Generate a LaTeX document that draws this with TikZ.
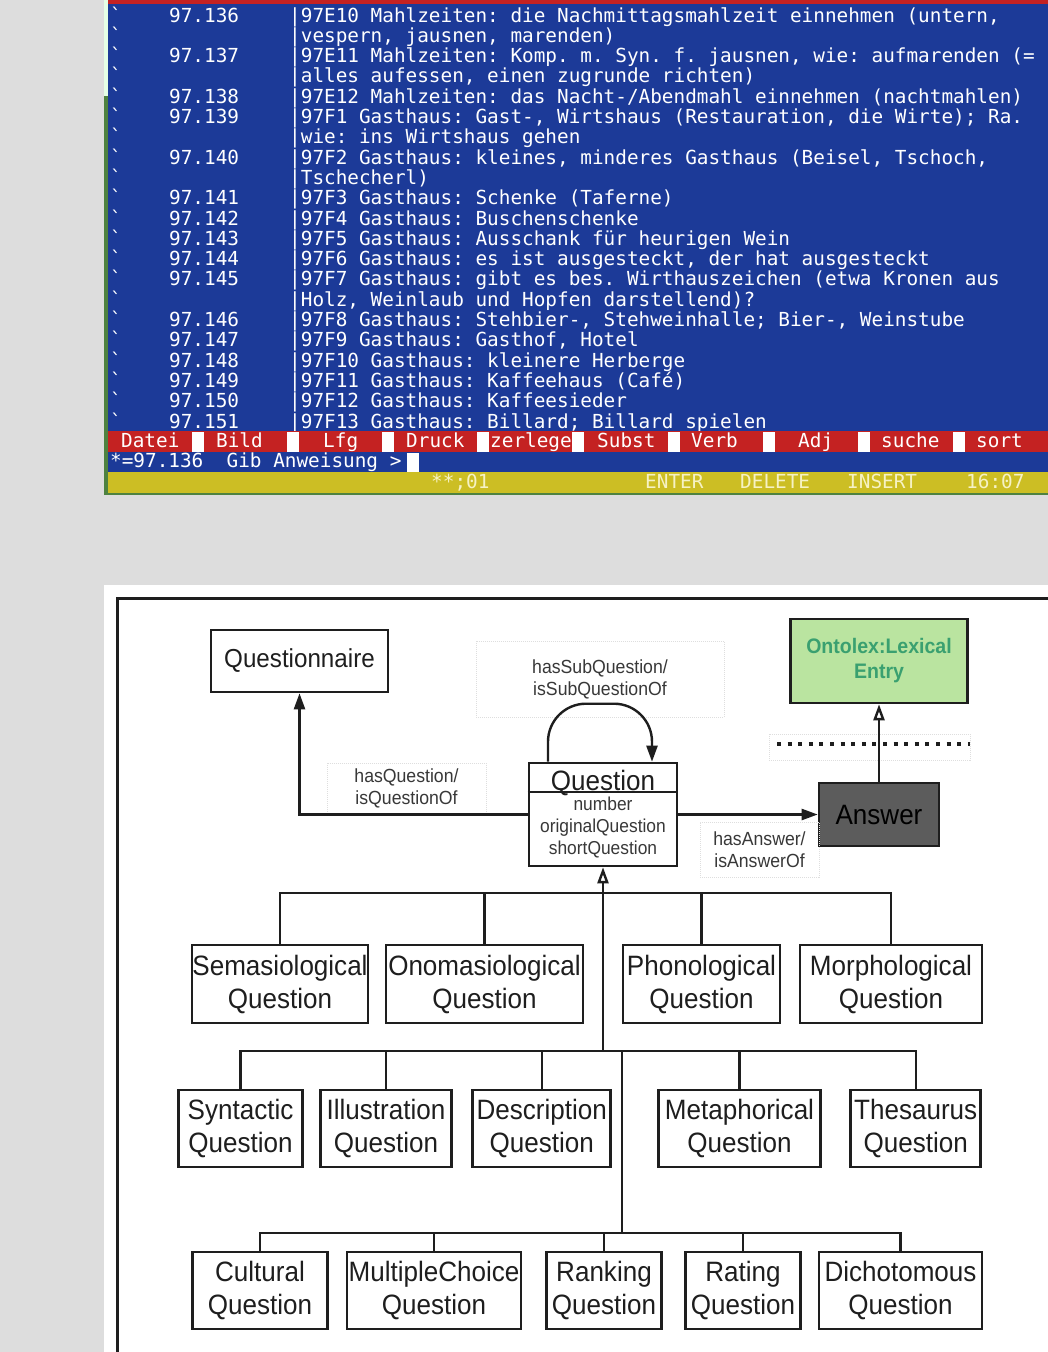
\documentclass[tikz,border=0pt]{standalone}
\usepackage{fontspec}
\usetikzlibrary{arrows.meta}
\newfontfamily\termfont{DejaVu Sans Mono}[Ligatures=TeXOff]
\newfontfamily\diafont{Liberation Sans}[FakeStretch=0.93]
\definecolor{bggray}{RGB}{221,221,221}
\definecolor{termblue}{RGB}{28,58,152}
\definecolor{termred}{RGB}{196,34,34}
\definecolor{termyellow}{RGB}{204,190,36}
\definecolor{statustext}{RGB}{246,242,196}
\definecolor{lexgreen}{RGB}{186,228,160}
\definecolor{lextext}{RGB}{58,160,112}
\definecolor{ansgray}{RGB}{92,92,92}
\definecolor{ink}{RGB}{30,30,30}
\definecolor{frame}{RGB}{78,130,64}

\newcommand{\termrow}[3]{%
  \node[term] (tick#1) at (110,{22+20.3*#1}) {`};
  \node[term] (num#1) at (169,{22+20.3*#1}) {#2};
  \node[term] (txt#1) at (289,{22+20.3*#1}) {#3};}

\begin{document}
\begin{tikzpicture}[x=1pt,y=-1pt,
  term/.style={font=\termfont\fontsize{19.35}{20}\selectfont\frenchspacing,text=white,anchor=base west,inner sep=0pt},
  qbox/.style={draw=ink,line width=2.6pt,text=ink,font=\diafont\fontsize{28}{33}\selectfont,align=center,inner sep=0pt},
  ghost/.style={draw=black!13,densely dotted,line width=1pt},
  lbl/.style={ghost,text=black!78,font=\diafont\fontsize{19}{22}\selectfont,align=center,inner sep=0pt},
  conn/.style={draw=ink,line width=2.4pt},
  arr/.style={conn,-{Triangle[length=16pt,width=11pt]}},
  openarr/.style={conn,-{Triangle[open,length=16pt,width=11pt,fill=white]}},
  sepline/.style={draw=ink,line width=4pt,dash pattern=on 4pt off 6.6pt}]
\useasboundingbox (0,0) rectangle (1048,1352);
\fill[bggray] (0,0) rectangle (1048,1352);

% terminal screen
\begin{scope}
\clip (104,0) rectangle (1048,495);
\fill[frame] (104,0) rectangle (1048,495);
\fill[white!90!green] (104,0) rectangle (108,96);
\fill[termblue] (108,0) rectangle (1048,493);
\fill[termred] (108,0) rectangle (1048,3.5);
\termrow{0}{97.136}{|97E10 Mahlzeiten: die Nachmittagsmahlzeit einnehmen (untern,}
\termrow{1}{}{|vespern, jausnen, marenden)}
\termrow{2}{97.137}{|97E11 Mahlzeiten: Komp. m. Syn. f. jausnen, wie: aufmarenden (=}
\termrow{3}{}{|alles aufessen, einen zugrunde richten)}
\termrow{4}{97.138}{|97E12 Mahlzeiten: das Nacht-/Abendmahl einnehmen (nachtmahlen)}
\termrow{5}{97.139}{|97F1 Gasthaus: Gast-, Wirtshaus (Restauration, die Wirte); Ra.}
\termrow{6}{}{|wie: ins Wirtshaus gehen}
\termrow{7}{97.140}{|97F2 Gasthaus: kleines, minderes Gasthaus (Beisel, Tschoch,}
\termrow{8}{}{|Tschecherl)}
\termrow{9}{97.141}{|97F3 Gasthaus: Schenke (Taferne)}
\termrow{10}{97.142}{|97F4 Gasthaus: Buschenschenke}
\termrow{11}{97.143}{|97F5 Gasthaus: Ausschank für heurigen Wein}
\termrow{12}{97.144}{|97F6 Gasthaus: es ist ausgesteckt, der hat ausgesteckt}
\termrow{13}{97.145}{|97F7 Gasthaus: gibt es bes. Wirthauszeichen (etwa Kronen aus}
\termrow{14}{}{|Holz, Weinlaub und Hopfen darstellend)?}
\termrow{15}{97.146}{|97F8 Gasthaus: Stehbier-, Stehweinhalle; Bier-, Weinstube}
\termrow{16}{97.147}{|97F9 Gasthaus: Gasthof, Hotel}
\termrow{17}{97.148}{|97F10 Gasthaus: kleinere Herberge}
\termrow{18}{97.149}{|97F11 Gasthaus: Kaffeehaus (Café)}
\termrow{19}{97.150}{|97F12 Gasthaus: Kaffeesieder}
\termrow{20}{97.151}{|97F13 Gasthaus: Billard; Billard spielen}
% menu bar
\fill[termred] (108,431) rectangle (1048,452);
\foreach \i in {0,...,8}
  \fill[white] ({192+95.1*\i},432) rectangle ++(12,19.5);
\foreach \mx/\mt [count=\i] in {121/Datei,216/Bild,323/Lfg,406/Druck,490/zerlege,597/Subst,691/Verb,798/Adj,881/suche,976/sort}
  \node[term] (menu\i) at (\mx,447) {\mt};
\node[term] (prompt) at (110,467) {*=97.136\ \ Gib Anweisung >};
\fill[white] (407,453) rectangle (419,472);
% status line
\fill[termyellow] (108,472) rectangle (1048,492.5);
\foreach \sx/\st [count=\i] in {431/**;01,645/ENTER,740/DELETE,847/INSERT,966/16:07}
  \node[term,text=statustext] (status\i) at (\sx,488) {\st};
\end{scope}

% question model
\fill[white] (104,585) rectangle (1048,1352);
\draw[ink,line width=3pt] (117.5,1352) -- (117.5,598.5) -- (1048,598.5);

\node[qbox,minimum width=177pt,minimum height=62pt,font=\diafont\fontsize{26}{30}\selectfont] (questionnaire) at (299.5,661) {Questionnaire};
\node[qbox,fill=lexgreen,minimum width=177pt,minimum height=84pt,text=lextext,font=\diafont\bfseries\fontsize{21}{25}\selectfont] (ontolex) at (879,661) {Ontolex:Lexical\\Entry};
\node[qbox,minimum width=148pt,minimum height=103pt] (question) at (603,814.5) {};
\node[qbox,fill=ansgray,minimum width=120pt,minimum height=63pt,text=black] (answer) at (879,814.5) {Answer};
\coordinate (qdiv) at (603,792);
\draw[conn,line width=2pt] (question.west |- qdiv) -- (question.east |- qdiv);
\node[text=ink,font=\diafont\fontsize{28}{33}\selectfont,anchor=base,inner sep=0pt] (qname) at (603,790) {Question};
\node[text=black!78,font=\diafont\fontsize{18.7}{22}\selectfont,align=center,inner sep=0pt] (qattr) at (603,827) {number\\originalQuestion\\shortQuestion};

\node[lbl,minimum width=248pt,minimum height=76pt] (lblsub) at (600,679) {hasSubQuestion/\\isSubQuestionOf};
\node[lbl,minimum width=159pt,minimum height=50pt] (lblq) at (406.5,788) {hasQuestion/\\isQuestionOf};
\node[lbl,minimum width=119pt,minimum height=55pt] (lbla) at (759.5,849.5) {hasAnswer/\\isAnswerOf};
\draw[ghost] (769,734) rectangle (970,760);
\coordinate (sepL) at (777,744);
\coordinate (sepR) at (970,744);
\draw[sepline] (sepL) -- (sepR);

\draw[arr] (question.west) -| (questionnaire.south);
\draw[arr] (question.east) -- (answer.west);
\draw[openarr] (answer.north) -- (ontolex.south);
\draw[arr,rounded corners=38pt] ([xshift=-55pt]question.north) -- ++(0,-58) -| ([xshift=49pt]question.north);

% subclasses
\node[qbox,minimum width=176pt,minimum height=78pt] (sem) at (280,984) {Semasiological\\Question};
\node[qbox,minimum width=197pt,minimum height=78pt] (ono) at (484.5,984) {Onomasiological\\Question};
\node[qbox,minimum width=157pt,minimum height=78pt] (pho) at (701.5,984) {Phonological\\Question};
\node[qbox,minimum width=182pt,minimum height=78pt] (mor) at (891,984) {Morphological\\Question};

\node[qbox,minimum width=124pt,minimum height=77pt] (syn) at (240.5,1128.5) {Syntactic\\Question};
\node[qbox,minimum width=131pt,minimum height=77pt] (ill) at (386,1128.5) {Illustration\\Question};
\node[qbox,minimum width=138pt,minimum height=77pt] (des) at (541.7,1128.5) {Description\\Question};
\node[qbox,minimum width=162pt,minimum height=77pt] (met) at (739.5,1128.5) {Metaphorical\\Question};
\node[qbox,minimum width=130pt,minimum height=77pt] (the) at (915.7,1128.5) {Thesaurus\\Question};

\node[qbox,minimum width=135pt,minimum height=77pt] (cul) at (260,1290.5) {Cultural\\Question};
\node[qbox,minimum width=174pt,minimum height=77pt] (mul) at (434,1290.5) {MultipleChoice\\Question};
\node[qbox,minimum width=115pt,minimum height=77pt] (ran) at (604,1290.5) {Ranking\\Question};
\node[qbox,minimum width=115pt,minimum height=77pt] (rat) at (743,1290.5) {Rating\\Question};
\node[qbox,minimum width=163pt,minimum height=77pt] (dic) at (900.5,1290.5) {Dichotomous\\Question};

\coordinate (hub1) at (603,893);
\coordinate (hub2) at (603,1051);
\coordinate (hub3) at (622,1233);
\draw[conn] (sem.north) |- (hub1) -| (mor.north);
\draw[conn] (ono.north) -- (ono.north |- hub1);
\draw[conn] (pho.north) -- (pho.north |- hub1);
\draw[openarr] (hub2) -- (question.south);
\draw[conn] (syn.north) |- (hub2) -| (the.north);
\draw[conn] (ill.north) -- (ill.north |- hub2);
\draw[conn] (des.north) -- (des.north |- hub2);
\draw[conn] (met.north) -- (met.north |- hub2);
\draw[conn] (hub3 |- hub2) -- (hub3);
\draw[conn] (cul.north) |- (hub3) -| (dic.north);
\draw[conn] (mul.north) -- (mul.north |- hub3);
\draw[conn] (ran.north) -- (ran.north |- hub3);
\draw[conn] (rat.north) -- (rat.north |- hub3);
\end{tikzpicture}
\end{document}
